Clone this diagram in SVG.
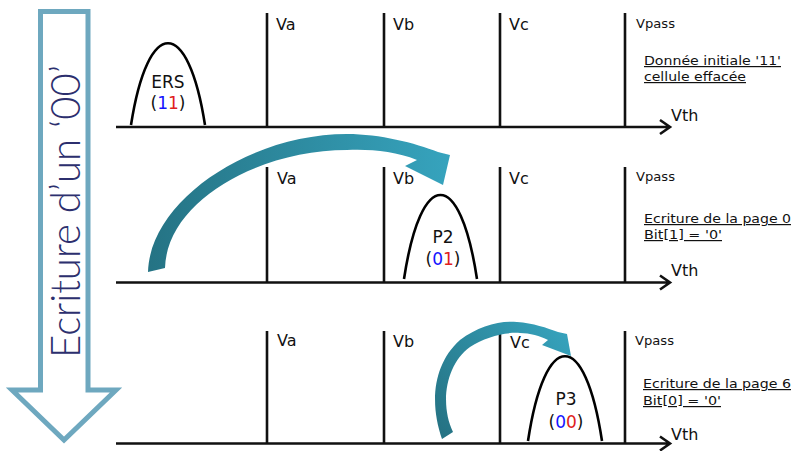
<svg xmlns="http://www.w3.org/2000/svg" width="796" height="451" viewBox="0 0 796 451">
<style>
.ln{stroke:#111;stroke-width:2.6;fill:none}
.cv{stroke:#000;stroke-width:2.6;fill:none}
.lb{font-family:"DejaVu Sans",Verdana,sans-serif;font-size:16px;fill:#111}
.sm{font-family:"DejaVu Sans",Verdana,sans-serif;font-size:12px;fill:#111}
.ul{text-decoration:underline}
.st{font-family:"DejaVu Sans",Verdana,sans-serif;font-size:17px;fill:#111;text-anchor:middle}
.b{fill:#1414ff}
.r{fill:#e02020}
</style>
<defs>
<linearGradient id="g1" x1="148" y1="0" x2="448" y2="0" gradientUnits="userSpaceOnUse">
<stop offset="0" stop-color="#257384"/>
<stop offset="1" stop-color="#36a3bd"/>
</linearGradient>
<linearGradient id="g2" x1="440" y1="430" x2="568" y2="330" gradientUnits="userSpaceOnUse">
<stop offset="0" stop-color="#257384"/>
<stop offset="1" stop-color="#36a3bd"/>
</linearGradient>
</defs>

<g id="big-arrow">
<polygon points="40.5,11.5 88,11.5 88,390 116,390 64,440 12,390 40.5,390" fill="#fff" stroke="#6ea8bf" stroke-width="5" stroke-linejoin="miter"/>
<text transform="translate(80,211.5) rotate(-90)" text-anchor="middle" font-family="Lato,'Liberation Sans',Arial,sans-serif" font-weight="300" font-size="41" fill="#2c2f6e" textLength="293" lengthAdjust="spacingAndGlyphs">Ecriture d’un ‘00’</text>
</g>

<g id="panel-top">
<path class="ln" d="M116,127 H670 M660,120 L670,127 L660,134"/>
<path class="ln" d="M267,13 V127 M384,13 V127 M500,13 V127 M625,13 V127"/>
<text class="lb" x="276" y="30">Va</text>
<text class="lb" x="393" y="30">Vb</text>
<text class="lb" x="509" y="30">Vc</text>
<text class="sm" x="636" y="28" textLength="39" lengthAdjust="spacingAndGlyphs">Vpass</text>
<text class="lb" x="671" y="121" font-size="16.5">Vth</text>
<text class="sm ul" x="644" y="65" textLength="137" lengthAdjust="spacingAndGlyphs">Donnée initiale '11'</text>
<text class="sm ul" x="644" y="81" textLength="102" lengthAdjust="spacingAndGlyphs">cellule effacée</text>
</g>

<g id="node-ers">
<path class="cv" d="M131,125 C148,16 188,16 205,125"/>
<text class="st" x="168" y="88">ERS</text>
<text class="st" x="168" y="109">(<tspan class="b">1</tspan><tspan class="r">1</tspan>)</text>
</g>

<g id="panel-mid">
<path class="ln" d="M116,282.5 H670 M660,275.5 L670,282.5 L660,289.5"/>
<path class="ln" d="M267,167 V282.5 M384,167 V282.5 M500,167 V282.5 M625,167 V282.5"/>
<text class="lb" x="277" y="184">Va</text>
<text class="lb" x="393" y="184">Vb</text>
<text class="lb" x="509" y="184">Vc</text>
<text class="sm" x="636" y="181" textLength="39" lengthAdjust="spacingAndGlyphs">Vpass</text>
<text class="lb" x="671" y="276" font-size="16.5">Vth</text>
<text class="sm ul" x="644" y="223" textLength="147" lengthAdjust="spacingAndGlyphs">Ecriture de la page 0</text>
<text class="sm ul" x="644" y="239" textLength="78" lengthAdjust="spacingAndGlyphs">Bit[1] = '0'</text>
</g>

<g id="node-p2">
<path class="cv" d="M404,279 C421,167 460,167 477,279"/>
<text class="st" x="443" y="243">P2</text>
<text class="st" x="443" y="265">(<tspan class="b">0</tspan><tspan class="r">1</tspan>)</text>
</g>

<g id="panel-bot">
<path class="ln" d="M116,443.5 H670 M660,436.5 L670,443.5 L660,450.5"/>
<path class="ln" d="M267,331 V443.5 M384,331 V443.5 M500,331 V443.5 M625,331 V443.5"/>
<text class="lb" x="277" y="346">Va</text>
<text class="lb" x="393" y="347">Vb</text>
<text class="lb" x="510" y="348">Vc</text>
<text class="sm" x="635" y="345" textLength="39" lengthAdjust="spacingAndGlyphs">Vpass</text>
<text class="lb" x="671" y="440" font-size="16.5">Vth</text>
<text class="sm ul" x="643" y="388" textLength="148" lengthAdjust="spacingAndGlyphs">Ecriture de la page 6</text>
<text class="sm ul" x="643" y="405" textLength="78" lengthAdjust="spacingAndGlyphs">Bit[0] = '0'</text>
</g>

<g id="node-p3">
<path class="cv" d="M528,441 C545,328 585,328 602,441"/>
<text class="st" x="566" y="405">P3</text>
<text class="st" x="566" y="428">(<tspan class="b">0</tspan><tspan class="r">0</tspan>)</text>
</g>

<g id="connectors">
<path fill="url(#g1)" d="M148,272 C150,200 250,134 347,134 C380,134 415,143 438,152 L450,155 L443,185 L405,166 L417,160 C395,151 370,149 347,150 C260,150 167,200 165,268 Z"/>
<path fill="url(#g2)" d="M442,439 C430,405 432,365 460,340 C478,326 500,320 517,322 C533,323 547,328 558,332 L567,334 L571,356 L542,345 L548,340 C540,336 530,333 520,333 C505,332 485,337 470,347 C445,365 440,405 453,432 Z"/>
</g>
</svg>
